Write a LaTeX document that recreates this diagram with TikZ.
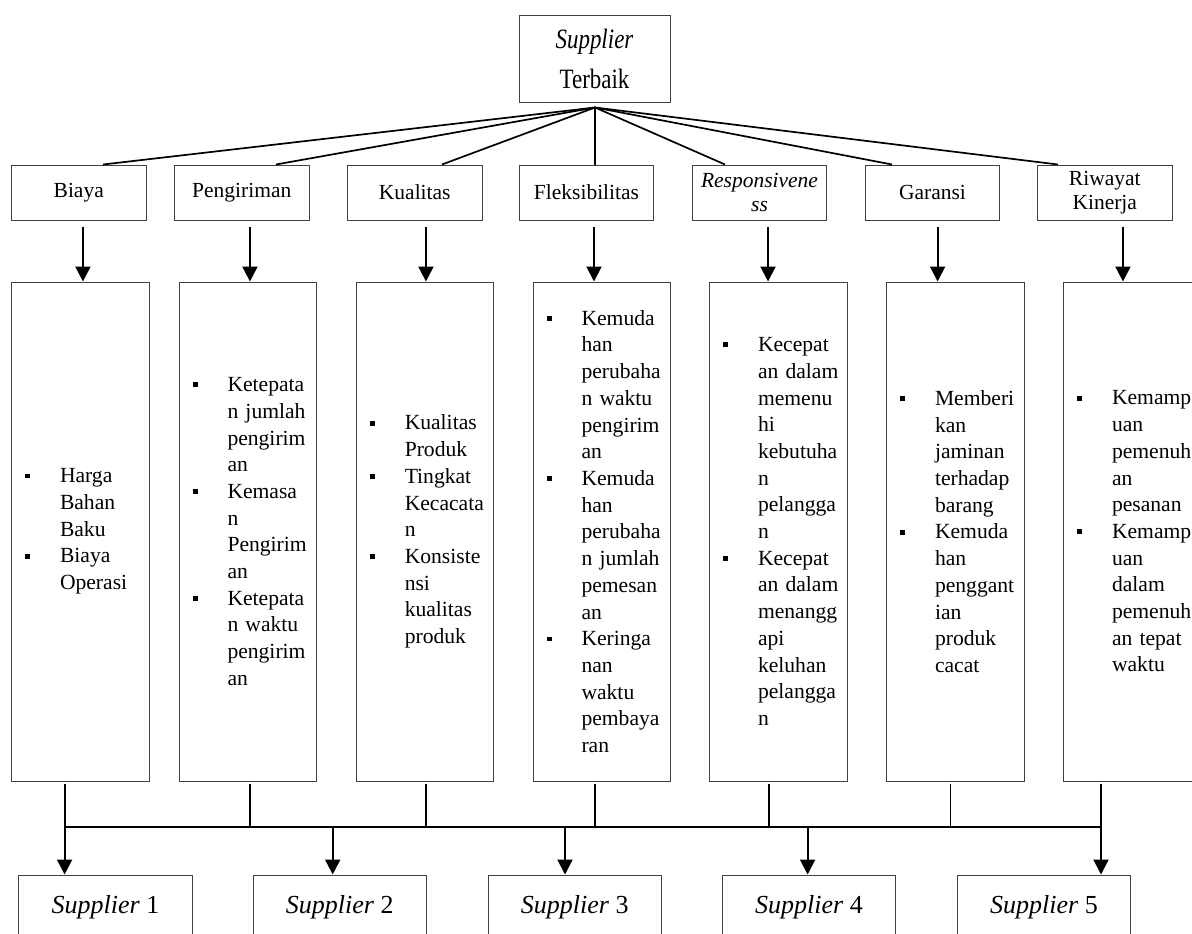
\documentclass[tikz,border=0pt]{standalone}
\usepackage{fontspec}
\setmainfont{Liberation Serif}
\newfontfamily\topfont[FakeStretch=0.82]{Liberation Serif}
\usetikzlibrary{arrows.meta}

\newcommand{\bul}{\makebox[17.5pt][l]{\raisebox{2.2pt}{\rule{2.6pt}{2.4pt}}}}
\newcommand{\bi}[1]{\bul\rlap{#1}}
\newcommand{\li}[1]{\hspace*{17.5pt}\rlap{#1}}

\begin{document}
\begin{tikzpicture}[x=0.5pt,y=-0.5pt,
    box/.style={draw=black!75,line width=0.5pt},
    top node/.style={box,minimum width=75.5pt,minimum height=43.5pt,inner sep=0pt,
                     align=center,font=\topfont\fontsize{14}{20}\selectfont},
    crit node/.style={box,minimum width=67.25pt,minimum height=27.5pt,inner sep=0pt,
                      align=center,font=\fontsize{10.75}{12}\selectfont},
    sub node/.style={box,minimum height=249.5pt,text width=55.25pt,inner xsep=6.75pt,
                     inner ysep=0pt,align=left,font=\fontsize{10.8}{13.35}\selectfont},
    sup node/.style={box,minimum width=86.75pt,minimum height=32pt,inner sep=0pt,
                     font=\fontsize{13}{15}\selectfont},
    arr/.style={line width=1pt,-{Triangle[width=7.5pt,length=7.5pt]}}]
  \useasboundingbox (0,0) rectangle (1192,933);
  \clip (0,0) rectangle (1192,933);

  %top%
  \node[top node] (top) at (594.5,58.5) {\textit{Supplier}\\Terbaik};

  %criteria%
  \node[crit node] (c1) at (78.75,192.5) {Biaya};
  \node[crit node] (c2) at (241.75,192.5) {Pengiriman};
  \node[crit node] (c3) at (414.75,192.5) {Kualitas};
  \node[crit node] (c4) at (586.5,192.5) {Fleksibilitas};
  \node[crit node] (c5) at (759.5,192.5) {\textit{Responsivene}\\\textit{ss}};
  \node[crit node] (c6) at (932.5,192.5) {Garansi};
  \node[crit node] (c7) at (1104.75,192.5) {Riwayat\\Kinerja};

  %sub criteria%
  \node[sub node] (k1) at (80.25,531.5)
    {\bi{Harga}\\\li{Bahan}\\\li{Baku}\\\bi{Biaya}\\\li{Operasi}};
  \node[sub node] (k2) at (247.75,531.5)
    {\bi{Ketepata}\\\li{n jumlah}\\\li{pengirim}\\\li{an}\\
     \bi{Kemasa}\\\li{n}\\\li{Pengirim}\\\li{an}\\
     \bi{Ketepata}\\\li{n waktu}\\\li{pengirim}\\\li{an}};
  \node[sub node] (k3) at (425,531.5)
    {\bi{Kualitas}\\\li{Produk}\\
     \bi{Tingkat}\\\li{Kecacata}\\\li{n}\\
     \bi{Konsiste}\\\li{nsi}\\\li{kualitas}\\\li{produk}};
  \node[sub node] (k4) at (601.75,531.5)
    {\bi{Kemuda}\\\li{han}\\\li{perubaha}\\\li{n waktu}\\\li{pengirim}\\\li{an}\\
     \bi{Kemuda}\\\li{han}\\\li{perubaha}\\\li{n jumlah}\\\li{pemesan}\\\li{an}\\
     \bi{Keringa}\\\li{nan}\\\li{waktu}\\\li{pembaya}\\\li{ran}};
  \node[sub node] (k5) at (778.25,531.5)
    {\bi{Kecepat}\\\li{an dalam}\\\li{memenu}\\\li{hi}\\\li{kebutuha}\\\li{n}\\\li{pelangga}\\\li{n}\\
     \bi{Kecepat}\\\li{an dalam}\\\li{menangg}\\\li{api}\\\li{keluhan}\\\li{pelangga}\\\li{n}};
  \node[sub node] (k6) at (955.25,531.5)
    {\bi{Memberi}\\\li{kan}\\\li{jaminan}\\\li{terhadap}\\\li{barang}\\
     \bi{Kemuda}\\\li{han}\\\li{penggant}\\\li{ian}\\\li{produk}\\\li{cacat}};
  \node[sub node] (k7) at (1132.25,531.5)
    {\bi{Kemamp}\\\li{uan}\\\li{pemenuh}\\\li{an}\\\li{pesanan}\\
     \bi{Kemamp}\\\li{uan}\\\li{dalam}\\\li{pemenuh}\\\li{an tepat}\\\li{waktu}};

  %suppliers%
  \node[sup node] (s1) at (105.5,907) {\textit{Supplier} 1};
  \node[sup node] (s2) at (339.8,907) {\textit{Supplier} 2};
  \node[sup node] (s3) at (574.8,907) {\textit{Supplier} 3};
  \node[sup node] (s4) at (808.9,907) {\textit{Supplier} 4};
  \node[sup node] (s5) at (1043.9,907) {\textit{Supplier} 5};

  \coordinate (busL) at (64.6,827);
  \coordinate (busR) at (1101,827);

  \path[line width=0.85pt] ([xshift=0.25pt,yshift=-2.5pt]top.south)
    edge ([xshift=12.1pt]c1.north)
    edge ([xshift=17.1pt]c2.north)
    edge ([xshift=13.6pt]c3.north)
    edge ([xshift=4.25pt]c4.north)
    edge ([xshift=-17.25pt]c5.north)
    edge ([xshift=-20.25pt]c6.north)
    edge ([xshift=-23.4pt]c7.north);

  \draw[arr] ([xshift=2.1pt,yshift=-3pt]c1.south) -- ([xshift=2.1pt]c1.south |- k1.north);
  \draw[arr] ([xshift=4.1pt,yshift=-3pt]c2.south) -- ([xshift=4.1pt]c2.south |- k2.north);
  \draw[arr] ([xshift=5.6pt,yshift=-3pt]c3.south) -- ([xshift=5.6pt]c3.south |- k3.north);
  \draw[arr] ([xshift=3.75pt,yshift=-3pt]c4.south) -- ([xshift=3.75pt]c4.south |- k4.north);
  \draw[arr] ([xshift=4.25pt,yshift=-3pt]c5.south) -- ([xshift=4.25pt]c5.south |- k5.north);
  \draw[arr] ([xshift=2.55pt,yshift=-3pt]c6.south) -- ([xshift=2.55pt]c6.south |- k6.north);
  \draw[arr] ([xshift=9.1pt,yshift=-3pt]c7.south) -- ([xshift=9.1pt]c7.south |- k7.north);

  %bus%
  \draw[line width=1pt] ([yshift=-1pt]k1.south -| busL) -- (busL) -- (busR)
                        ([yshift=-1pt]k7.south -| busR) -- (busR);
  \draw[line width=0.6pt] ([xshift=1.1pt,yshift=-1pt]k2.south) -- ([xshift=1.1pt]k2.south |- busL)
                          ([xshift=0.5pt,yshift=-1pt]k3.south) -- ([xshift=0.5pt]k3.south |- busL)
                          ([xshift=-3.4pt,yshift=-1pt]k4.south) -- ([xshift=-3.4pt]k4.south |- busL)
                          ([xshift=-4.6pt,yshift=-1pt]k5.south) -- ([xshift=-4.6pt]k5.south |- busL)
                          ([xshift=-2.4pt,yshift=-1pt]k6.south) -- ([xshift=-2.4pt]k6.south |- busL);

  \draw[arr] (busL) -- (busL |- s1.north);
  \draw[arr] ([xshift=-3.55pt]s2.north |- busL) -- ([xshift=-3.55pt]s2.north);
  \draw[arr] ([xshift=-4.9pt]s3.north |- busL) -- ([xshift=-4.9pt]s3.north);
  \draw[arr] ([xshift=-0.65pt]s4.north |- busL) -- ([xshift=-0.65pt]s4.north);
  \draw[arr] (busR) -- (busR |- s5.north);
\end{tikzpicture}
\end{document}
